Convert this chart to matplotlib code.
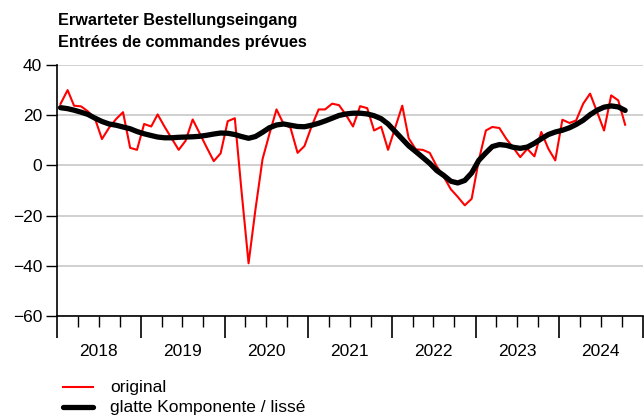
import numpy as np
import matplotlib
matplotlib.use("Agg")
import matplotlib.pyplot as plt
import matplotlib.dates as mdates
from matplotlib.lines import Line2D

plt.rcParams['font.family'] = ['Liberation Sans', 'DejaVu Sans']

# monthly values, Jan 2018 .. Oct 2024
start_month = "2018-01"
n_months = 82

original = [
    24.5, 30.0, 23.8, 23.5, 21.5, 18.5, 10.5, 15.0, 18.5, 21.2, 7.0, 6.2,      # 2018
    16.5, 15.5, 20.3, 15.3, 10.8, 6.2, 9.8, 18.3, 12.7, 7.2, 1.7, 4.8,        # 2019
    17.6, 18.8, -10.0, -39.0, -17.6, 2.5, 12.5, 22.3, 16.5, 15.0, 5.0, 7.7,   # 2020
    15.5, 22.3, 22.3, 24.6, 24.0, 20.0, 15.5, 23.6, 22.8, 13.9, 15.4, 6.2,    # 2021
    15.0, 23.8, 10.8, 6.4, 6.2, 5.0, -0.3, -4.5, -9.5, -12.5, -15.9, -13.3,   # 2022
    2.0, 13.9, 15.3, 14.9, 10.6, 7.0, 3.3, 6.6, 3.6, 13.3, 6.6, 2.0,          # 2023
    18.2, 16.9, 17.9, 24.6, 28.6, 21.2, 13.9, 27.9, 25.9, 16.2,               # 2024
]

smooth = [
    23.0, 22.6, 22.0, 21.2, 20.3, 18.8, 17.5, 16.5, 16.0, 15.3, 14.6, 13.5,
    12.6, 11.9, 11.3, 11.0, 11.0, 11.2, 11.3, 11.4, 11.6, 12.0, 12.5, 12.9,
    12.8, 12.3, 11.5, 10.8, 11.5, 13.2, 15.0, 16.1, 16.5, 16.0, 15.5, 15.4,
    16.0, 16.8, 17.7, 18.8, 19.9, 20.5, 20.8, 20.8, 20.5, 19.8, 18.6, 16.5,
    13.5, 10.5, 7.8, 5.5, 3.2, 0.8, -2.0, -4.0, -6.3, -7.0, -6.0, -3.0,
    2.0, 5.0, 7.5, 8.3, 8.0, 7.2, 6.8, 7.3, 8.8, 10.6, 12.3, 13.3,
    14.0, 15.0, 16.3, 18.0, 20.2, 22.0, 23.2, 23.7, 23.3, 21.9,
]

years = list(range(2018, 2025))
y_ticks = [40, 20, 0, -20, -40, -60]
legend_labels = ['original', 'glatte Komponente / lissé']

months = np.arange(np.datetime64(start_month), np.datetime64(start_month) + n_months)
dates = months.astype('datetime64[D]') + np.timedelta64(14, 'D')

W, H = 644, 419
fig = plt.figure(figsize=(W/100, H/100), dpi=100)
ax = fig.add_axes([57.3/W, 1-316/H, (643-57.3)/W, (316-65)/H])

for v in y_ticks:
    ax.axhline(v, color='#c8c8c8', lw=1.2, zorder=0)

ax.plot(dates, original, color='#ff0000', lw=1.5, zorder=3)
ax.plot(dates, smooth, color='black', lw=3.8, solid_capstyle='round', zorder=4)

ax.set_ylim(-60, 40)
ax.set_xlim(np.datetime64('2018-01-01'), np.datetime64('2025-01-01'))
ax.set_yticks(y_ticks)
ax.set_yticklabels(['40', '20', '0', '\u221220', '\u221240', '\u221260'])

ax.xaxis.set_major_locator(mdates.YearLocator())
ax.xaxis.set_minor_locator(mdates.MonthLocator(bymonth=[4, 7, 10]))
ax.xaxis.set_major_formatter(plt.NullFormatter())
ax.tick_params(axis='x', which='major', length=16, width=1.2, color='black')
ax.tick_params(axis='x', which='minor', length=8, width=1.0, color='black')
ax.tick_params(axis='y', length=8, width=1.0, labelsize=12.5, pad=3)

for y in years:
    ax.text(np.datetime64(f'{y}-07-01'), -0.14, str(y), transform=ax.get_xaxis_transform(),
            ha='center', va='center', fontsize=12.5)

for s in ['top', 'right']:
    ax.spines[s].set_visible(False)
ax.spines['left'].set_linewidth(1.2)
ax.spines['bottom'].set_linewidth(1.2)

fig.text(58/W, 1-20/H, 'Erwarteter Bestellungseingang', fontsize=11.7,
         fontweight='bold', va='center', ha='left')
fig.text(58/W, 1-42/H, 'Entrées de commandes prévues', fontsize=11.7,
         fontweight='bold', va='center', ha='left')

# legend below the plot
leg_style = [dict(color='#ff0000', lw=1.5), dict(color='black', lw=3.8, solid_capstyle='round')]
for i, (lab, st) in enumerate(zip(legend_labels, leg_style)):
    yy = 1 - (387 + 20*i)/H
    fig.add_artist(Line2D([63/W, 93/W], [yy, yy], transform=fig.transFigure, **st))
    fig.text(110/W, yy, lab, fontsize=12.5, va='center', ha='left')

fig.savefig('out.png', dpi=100)
